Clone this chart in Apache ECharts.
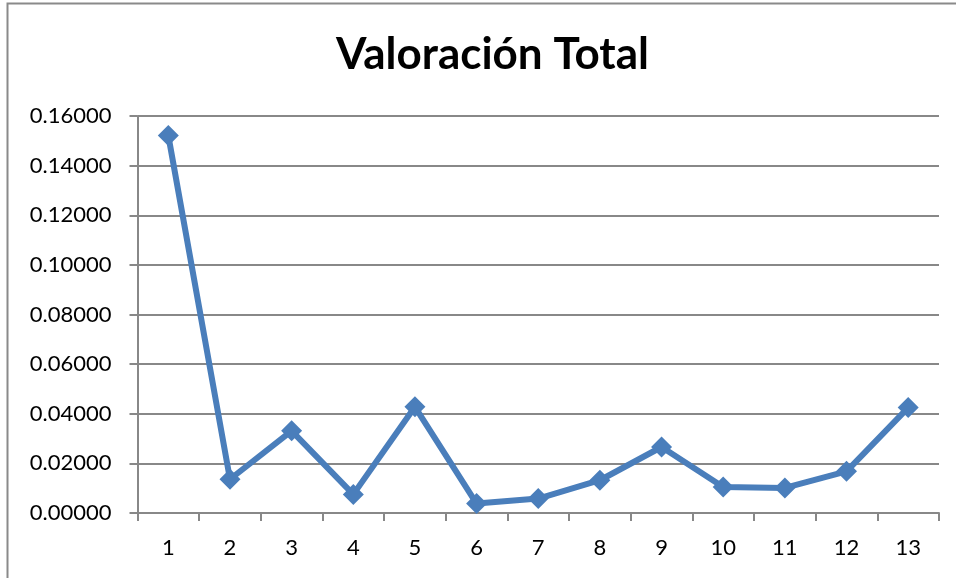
<!DOCTYPE html>
<html>
<head>
<meta charset="utf-8">
<script src="https://cdn.jsdelivr.net/npm/echarts@6/dist/echarts.min.js"></script>
<style>html,body{margin:0;padding:0;background:#fff}#c{width:956px;height:578px}</style>
</head>
<body>
<div id="c"></div>
<script>
const titleText = 'Valoración Total';
const categories = ['1','2','3','4','5','6','7','8','9','10','11','12','13'];
const values = [0.1521, 0.0136, 0.0331, 0.0075, 0.0428, 0.0038, 0.0058, 0.0132, 0.0266, 0.0105, 0.0101, 0.0168, 0.0425];
const yMin = 0, yMax = 0.16, yStep = 0.02;

const chart = echarts.init(document.getElementById('c'), null, {renderer: 'canvas'});
const font = 'Lato, "Open Sans", "Noto Sans", sans-serif';
chart.setOption({
  animation: false,
  backgroundColor: '#fff',
  graphic: [{
    type: 'rect', silent: true,
    shape: {x: 7.5, y: 3.5, width: 1000, height: 1000},
    style: {fill: 'none', stroke: '#8a8a8a', lineWidth: 2}
  }],
  title: {
    text: titleText, left: 331, top: 28,
    textStyle: {fontFamily: font, fontSize: 44, fontWeight: 'bold', color: '#000'}
  },
  grid: {left: 137.5, right: 17, top: 116, bottom: 65, containLabel: false},
  xAxis: {
    type: 'category', data: categories, boundaryGap: true,
    axisLine: {lineStyle: {color: '#888', width: 2}},
    axisTick: {show: true, length: 8, lineStyle: {color: '#888', width: 2}},
    axisLabel: {fontFamily: font, fontSize: 22, color: '#000', margin: 24}
  },
  yAxis: {
    type: 'value', min: yMin, max: yMax, interval: yStep,
    axisLine: {show: true, lineStyle: {color: '#888', width: 2}},
    axisTick: {show: true, length: 8, lineStyle: {color: '#888', width: 2}},
    splitLine: {lineStyle: {color: '#888', width: 2}},
    axisLabel: {fontFamily: font, fontSize: 22, color: '#000', margin: 26,
      formatter: v => v.toFixed(5)}
  },
  series: [{
    type: 'line', data: values,
    symbol: 'diamond', symbolSize: 21,
    lineStyle: {color: '#4a7ebb', width: 6},
    itemStyle: {color: '#4a7ebb'}
  }]
});
</script>
</body>
</html>
